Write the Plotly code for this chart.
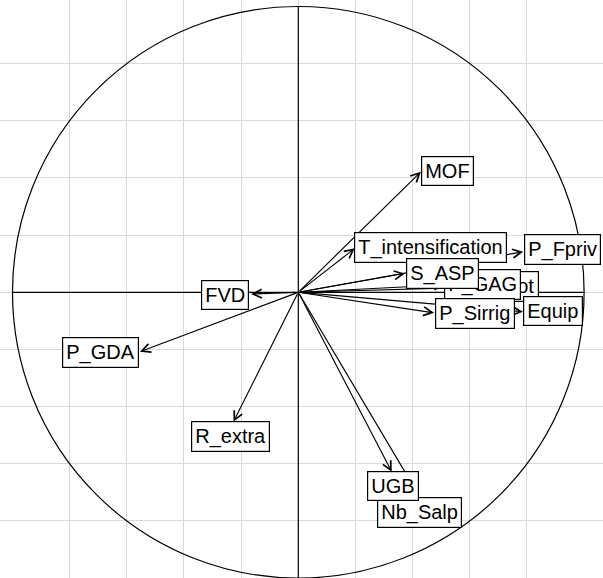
import plotly.graph_objects as go

# ── DATA ────────────────────────────────────────────────────────────────────
# (order = drawing order of the labels, later ones sit on top)
variables = ["MOF", "T_intensification", "P_Fpriv", "S_tot", "P_GAG", "S_ASP",
             "P_Sirrig", "Equip", "FVD", "P_GDA", "R_extra", "Nb_Salp", "UGB"]
# variable coordinates (arrow tips) on the correlation circle
dim1 = [0.429, 0.198, 0.787, 0.706, 0.513, 0.373, 0.475, 0.786, -0.165, -0.554, -0.227, 0.415, 0.327]
dim2 = [0.422, 0.154, 0.142, 0.020, 0.026, 0.066, -0.072, -0.068, -0.006, -0.208, -0.453, -0.699, -0.628]
# repelled label positions (data units)
label_x = [0.522, 0.463, 0.926, 0.744, 0.643, 0.505, 0.619, 0.892, -0.258, -0.693, -0.236, 0.423, 0.330]
label_y = [0.424, 0.156, 0.150, 0.0196, 0.029, 0.066, -0.075, -0.066, -0.0105, -0.212, -0.504, -0.772, -0.677]
grid_ticks = [-0.8, -0.6, -0.4, -0.2, 0.0, 0.2, 0.4, 0.6, 0.8]

FONT = "Liberation Sans, Arial, sans-serif"

fig = go.Figure()

# ── CIRCLE + AXES ───────────────────────────────────────────────────────────
fig.add_shape(type="circle", x0=-1, y0=-1, x1=1, y1=1,
              line=dict(color="black", width=1.2), layer="above")
fig.add_shape(type="line", x0=-1, y0=0, x1=1, y1=0,
              line=dict(color="black", width=1.2), layer="above")
fig.add_shape(type="line", x0=0, y0=-1, x1=0, y1=1,
              line=dict(color="black", width=1.2), layer="above")

# ── ARROWS ──────────────────────────────────────────────────────────────────
for x, y in zip(dim1, dim2):
    fig.add_annotation(x=x, y=y, ax=0, ay=0, axref="x", ayref="y",
                       xref="x", yref="y", text="", showarrow=True,
                       arrowhead=5, arrowsize=1.5, arrowwidth=1.15,
                       arrowcolor="black", standoff=0, startstandoff=0)

# ── LABELS ──────────────────────────────────────────────────────────────────
for name, lx, ly in zip(variables, label_x, label_y):
    fig.add_annotation(x=lx, y=ly, xref="x", yref="y", text=name,
                       showarrow=False, font=dict(family=FONT, size=20, color="black"),
                       bgcolor="white", bordercolor="black", borderwidth=1.2,
                       borderpad=3, xanchor="center", yanchor="middle")

fig.update_xaxes(range=[-1.0437, 1.0661], tickvals=grid_ticks, showticklabels=False,
                 showgrid=True, gridcolor="#d9d9d9", gridwidth=1, zeroline=False,
                 showline=False, ticks="")
fig.update_yaxes(range=[-0.9997, 1.0227], tickvals=grid_ticks, showticklabels=False,
                 showgrid=True, gridcolor="#d9d9d9", gridwidth=1, zeroline=False,
                 showline=False, ticks="")

fig.update_layout(
    width=603, height=578,
    margin=dict(l=0, r=0, t=0, b=0),
    paper_bgcolor="white",
    plot_bgcolor="white",
    showlegend=False,
)

fig.write_html("out.html", config={"displayModeBar": False},
               post_script="document.body.style.margin = '0';")
